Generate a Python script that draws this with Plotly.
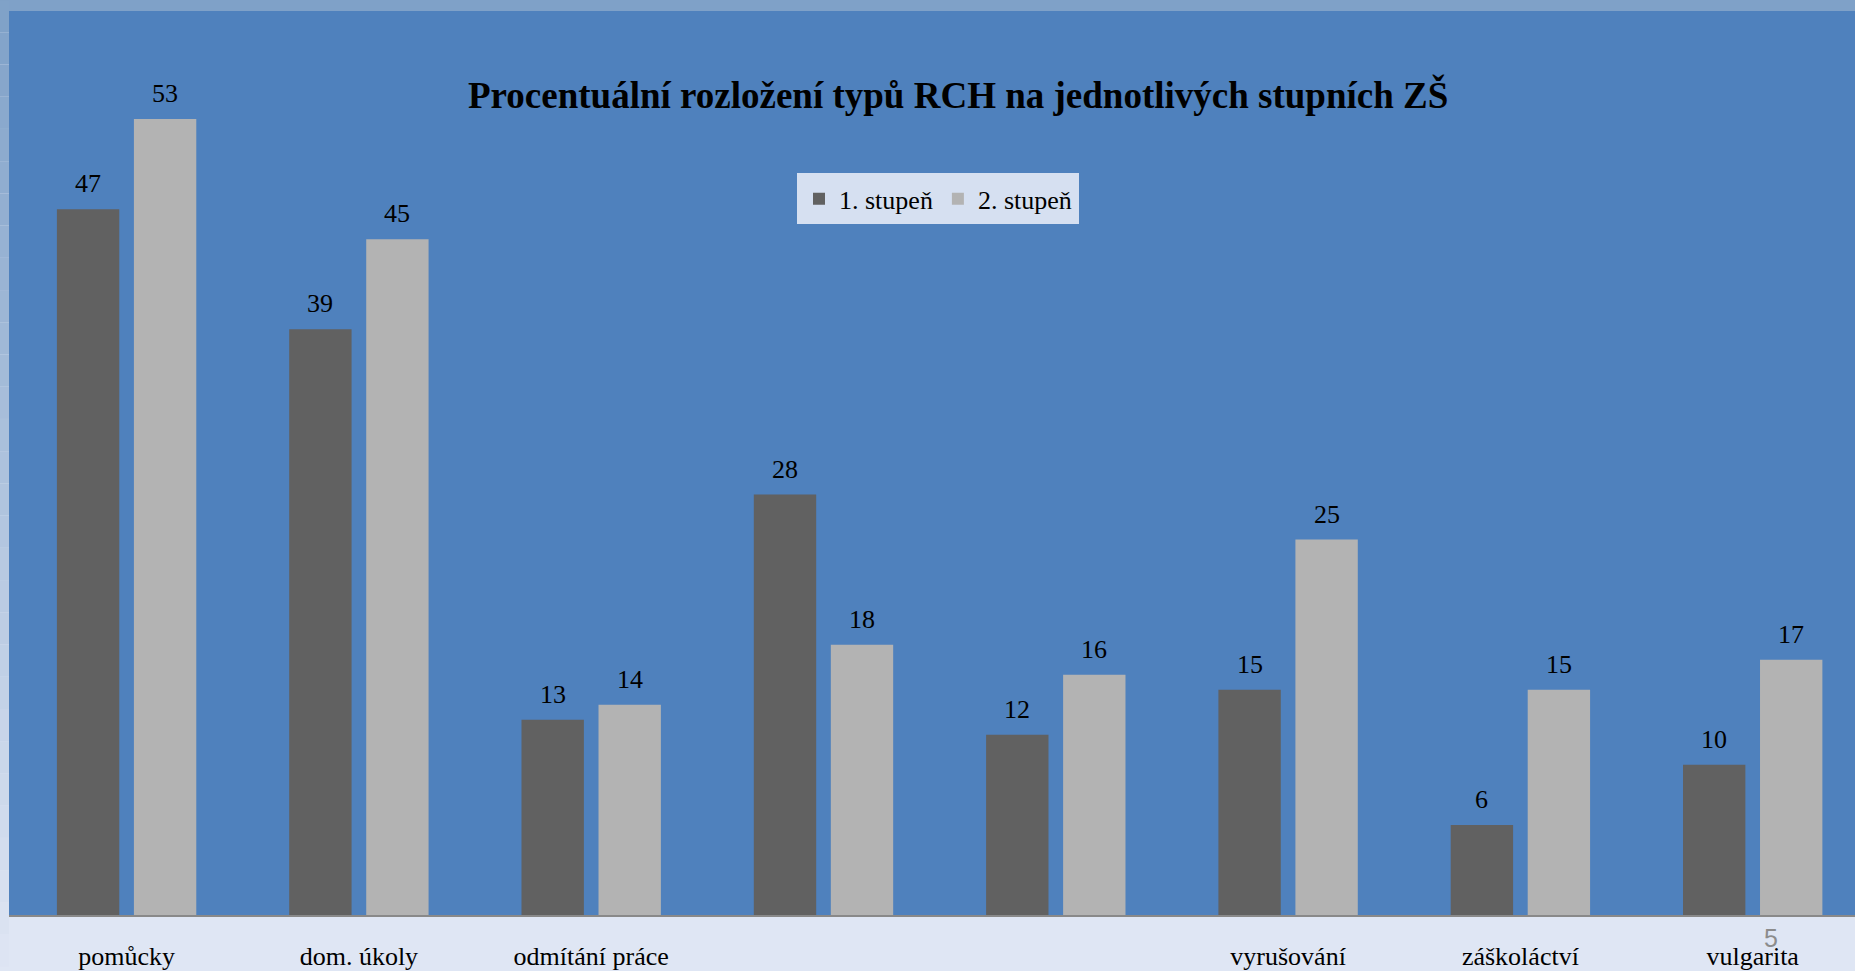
import plotly.graph_objects as go

categories = ["pomůcky", "dom. úkoly", "odmítání práce", "", "", "vyrušování", "záškoláctví", "vulgarita"]
stupen1 = [47, 39, 13, 28, 12, 15, 6, 10]
stupen2 = [53, 45, 14, 18, 16, 25, 15, 17]
series_names = ["1. stupeň", "2. stupeň"]
title_text = "Procentuální rozložení typů RCH na jednotlivých stupních ZŠ"
slide_number = "5"

W, H = 1855, 971
ML, MR, MT, MB = 9, 0, 11, 52
SERIF = "Liberation Serif, Times New Roman, serif"
DARK, LIGHT = "#616161", "#B3B3B3"
PLOT_BG = "#4F81BD"

x_idx = list(range(len(categories)))
PW = W - ML - MR
PH = H - MT - MB

fig = go.Figure()
fig.add_trace(go.Bar(x=x_idx, y=stupen1, name=series_names[0], marker=dict(color=DARK, line=dict(width=0))))
fig.add_trace(go.Bar(x=x_idx, y=stupen2, name=series_names[1], marker=dict(color=LIGHT, line=dict(width=0))))

# value labels
slot_px = 38.5
for vals, sh in ((stupen1, -slot_px), (stupen2, slot_px)):
    for i, v in zip(x_idx, vals):
        fig.add_annotation(x=i, y=v, xref="x", yref="y", text=str(v), showarrow=False,
                           xshift=sh, yshift=9, yanchor="bottom",
                           font=dict(family=SERIF, size=26, color="black"))

# title
fig.add_annotation(x=(958 - ML) / PW, y=1 - (95 - MT) / PH, xref="paper", yref="paper",
                   text="<b>" + title_text + "</b>", showarrow=False, xanchor="center", yanchor="middle",
                   font=dict(family=SERIF, size=37, color="black"))

# slide number
fig.add_annotation(x=(1771 - ML) / PW, y=1 - (942 - MT) / PH, xref="paper", yref="paper",
                   text=slide_number, showarrow=False, xanchor="center", yanchor="middle",
                   font=dict(family="Liberation Sans, Arial, sans-serif", size=25, color="#8C8C8C"))

# background decoration: top strip and left gradient strip
top_c = (0x7F, 0xA1, 0xC8)
bot_c = (0xDF, 0xE6, 0xF4)
shapes = [dict(type="rect", xref="paper", yref="paper", x0=-1, x1=1.1, y0=1, y1=1.05,
               fillcolor="rgb(127,161,200)", line=dict(width=0), layer="below")]
steps = 30
for k in range(steps):
    t = (k + 0.5) / steps
    c = tuple(int(top_c[j] + (bot_c[j] - top_c[j]) * t) for j in range(3))
    ytop_px = H * k / steps
    ybot_px = H * (k + 1) / steps
    shapes.append(dict(type="rect", xref="paper", yref="paper",
                       x0=-ML / PW - 0.01, x1=0,
                       y0=1 - (ybot_px - MT) / PH, y1=1 - (ytop_px - MT) / PH,
                       fillcolor="rgb(%d,%d,%d)" % c, line=dict(width=0), layer="below"))

fig.update_layout(
    width=W, height=H,
    margin=dict(l=ML, r=MR, t=MT, b=MB),
    paper_bgcolor="#DFE6F4",
    plot_bgcolor=PLOT_BG,
    barmode="group",
    bargap=0.337,
    bargroupgap=0.19,
    shapes=shapes,
    showlegend=True,
    legend=dict(orientation="h", x=(797 - ML) / PW, y=1 - (174 - MT) / PH,
                xanchor="left", yanchor="top", bgcolor="#D6E0F1",
                font=dict(family=SERIF, size=26, color="black"),
                itemwidth=30, traceorder="normal", borderwidth=2, bordercolor="#D6E0F1"),
    xaxis=dict(range=[-0.5062, 7.4404], tickmode="array", tickvals=x_idx, ticktext=categories,
               showline=True, linecolor="#898989", linewidth=2, showgrid=False, zeroline=False,
               ticks="", ticklabelstandoff=17,
               tickfont=dict(family=SERIF, size=26, color="black")),
    yaxis=dict(range=[0, 60.2], showgrid=False, zeroline=False, showticklabels=False, showline=False),
)

fig.write_html("out.html", config={"displayModeBar": False},
               post_script="document.body.style.margin='0';document.body.style.overflow='hidden';")
